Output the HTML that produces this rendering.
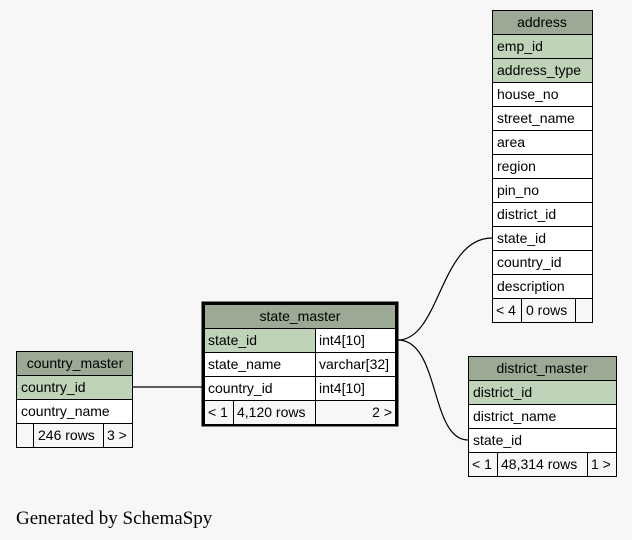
<!DOCTYPE html>
<html><head><meta charset="utf-8"><style>
html,body{margin:0;padding:0;background:#f7f7f7;}
svg{display:block;}
text{font-family:"Liberation Sans",sans-serif;font-size:14px;fill:#000;}
.g{font-family:"Liberation Serif",serif;font-size:19px;}
</style></head><body>
<svg width="632" height="540" viewBox="0 0 632 540">
<rect width="632" height="540" fill="#f7f7f7"/>
<g fill="none" stroke="#000" stroke-width="1.2">
<path d="M133,387 L204,387"/>
<path d="M398,340 C440,340 440,238 492,238"/>
<path d="M398,340 C440,340 430,440 468,440"/>
</g>
<g stroke="#000" stroke-width="1">
<rect x="492.5" y="10.5" width="100" height="24" fill="#9caa95"/>
<rect x="492.5" y="34.5" width="100" height="24" fill="#bfd3b9"/>
<rect x="492.5" y="58.5" width="100" height="24" fill="#bfd3b9"/>
<rect x="492.5" y="82.5" width="100" height="24" fill="#fff"/>
<rect x="492.5" y="106.5" width="100" height="24" fill="#fff"/>
<rect x="492.5" y="130.5" width="100" height="24" fill="#fff"/>
<rect x="492.5" y="154.5" width="100" height="24" fill="#fff"/>
<rect x="492.5" y="178.5" width="100" height="24" fill="#fff"/>
<rect x="492.5" y="202.5" width="100" height="24" fill="#fff"/>
<rect x="492.5" y="226.5" width="100" height="24" fill="#fff"/>
<rect x="492.5" y="250.5" width="100" height="24" fill="#fff"/>
<rect x="492.5" y="274.5" width="100" height="24" fill="#fff"/>
<rect x="492.5" y="298.5" width="100" height="24" fill="#f7f7f7"/>
<line x1="521.5" y1="298.5" x2="521.5" y2="322.5"/>
<line x1="575.5" y1="298.5" x2="575.5" y2="322.5"/>
</g>
<text x="542" y="27" text-anchor="middle">address</text>
<text x="497" y="51">emp_id</text>
<text x="497" y="75">address_type</text>
<text x="497" y="99">house_no</text>
<text x="497" y="123">street_name</text>
<text x="497" y="147">area</text>
<text x="497" y="171">region</text>
<text x="497" y="195">pin_no</text>
<text x="497" y="219">district_id</text>
<text x="497" y="243">state_id</text>
<text x="497" y="267">country_id</text>
<text x="497" y="291">description</text>
<text x="496" y="315">&lt; 4</text>
<text x="526" y="315">0 rows</text>
<rect x="203" y="303" width="194" height="122" fill="#fff" stroke="#000" stroke-width="3"/>
<g stroke="#000" stroke-width="1">
<rect x="204.5" y="304.5" width="191" height="24" fill="#9caa95"/>
<rect x="204.5" y="328.5" width="111" height="24" fill="#bfd3b9"/>
<rect x="315.5" y="328.5" width="80" height="24" fill="#fff"/>
<rect x="204.5" y="352.5" width="111" height="24" fill="#fff"/>
<rect x="315.5" y="352.5" width="80" height="24" fill="#fff"/>
<rect x="204.5" y="376.5" width="111" height="24" fill="#fff"/>
<rect x="315.5" y="376.5" width="80" height="24" fill="#fff"/>
<rect x="204.5" y="400.5" width="191" height="24" fill="#f7f7f7"/>
<line x1="233.5" y1="400.5" x2="233.5" y2="424.5"/>
<line x1="315.5" y1="400.5" x2="315.5" y2="424.5"/>
</g>
<text x="300" y="321" text-anchor="middle">state_master</text>
<text x="208" y="345">state_id</text><text x="319" y="345">int4[10]</text>
<text x="208" y="369">state_name</text><text x="319" y="369">varchar[32]</text>
<text x="208" y="393">country_id</text><text x="319" y="393">int4[10]</text>
<text x="208" y="417">&lt; 1</text>
<text x="237" y="417">4,120 rows</text>
<text x="392" y="417" text-anchor="end">2 &gt;</text>
<g stroke="#000" stroke-width="1">
<rect x="16.5" y="351.5" width="116" height="24" fill="#9caa95"/>
<rect x="16.5" y="375.5" width="116" height="24" fill="#bfd3b9"/>
<rect x="16.5" y="399.5" width="116" height="24" fill="#fff"/>
<rect x="16.5" y="423.5" width="116" height="24" fill="#f7f7f7"/>
<line x1="33.5" y1="423.5" x2="33.5" y2="447.5"/>
<line x1="103.5" y1="423.5" x2="103.5" y2="447.5"/>
</g>
<text x="75" y="368" text-anchor="middle">country_master</text>
<text x="21" y="392">country_id</text>
<text x="21" y="416">country_name</text>
<text x="38" y="440">246 rows</text>
<text x="107" y="440">3 &gt;</text>
<g stroke="#000" stroke-width="1">
<rect x="468.5" y="356.5" width="148" height="24" fill="#9caa95"/>
<rect x="468.5" y="380.5" width="148" height="24" fill="#bfd3b9"/>
<rect x="468.5" y="404.5" width="148" height="24" fill="#fff"/>
<rect x="468.5" y="428.5" width="148" height="24" fill="#fff"/>
<rect x="468.5" y="452.5" width="148" height="24" fill="#f7f7f7"/>
<line x1="497.5" y1="452.5" x2="497.5" y2="476.5"/>
<line x1="587.5" y1="452.5" x2="587.5" y2="476.5"/>
</g>
<text x="542" y="373" text-anchor="middle">district_master</text>
<text x="473" y="397">district_id</text>
<text x="473" y="421">district_name</text>
<text x="473" y="445">state_id</text>
<text x="472" y="469">&lt; 1</text>
<text x="501" y="469">48,314 rows</text>
<text x="591" y="469">1 &gt;</text>
<text class="g" x="16" y="524">Generated by SchemaSpy</text>
</svg>
</body></html>
